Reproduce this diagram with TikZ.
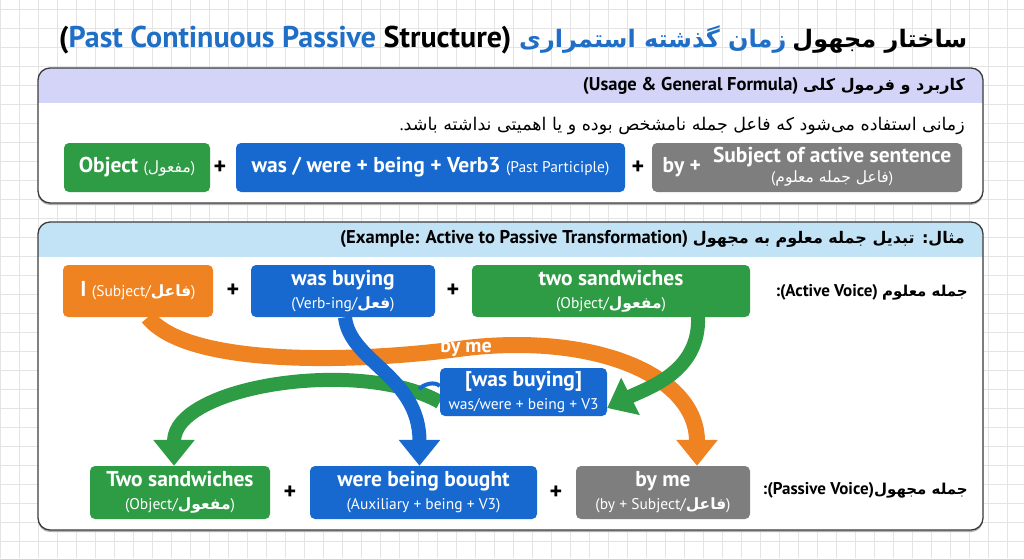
\documentclass[tikz,border=0pt]{standalone}
\usepackage{fontspec}
\setmainfont{PT Sans}
\newfontfamily\fa[Script=Arabic]{DejaVu Sans}
\TeXXeTstate=1
\usetikzlibrary{arrows.meta,positioning}
\pgfdeclarelayer{back}
\pgfdeclarelayer{flows}
\pgfsetlayers{back,flows,main}
\definecolor{gridgray}{HTML}{E4E4E4}
\definecolor{boxgreen}{HTML}{2E9C44}
\definecolor{boxblue}{HTML}{1769CF}
\definecolor{boxorange}{HTML}{F08321}
\definecolor{boxgray}{HTML}{7E7E7E}
\definecolor{titleblue}{HTML}{1F6FC6}
\definecolor{hdrlav}{HTML}{D3D4F8}
\definecolor{hdrsky}{HTML}{C2E2F6}
\definecolor{framegray}{HTML}{3C3C3C}
\newcommand\fatxt[1]{{\fa\beginR #1\endR}}
\newcommand\hfa[1]{{\fontsize{16}{18}\selectfont\fatxt{#1}}}
\newcommand\lfa[1]{{\fontsize{15}{17}\selectfont\fatxt{#1}}}
\newcommand\subtxt{\mdseries\fontsize{15.5}{17}\selectfont}

\begin{document}
\begin{tikzpicture}[x=1pt,y=-1pt,
    gridln/.style={gridgray, line width=0.6pt},
    panel/.style={draw=framegray, line width=1.3pt, rounded corners=12pt},
    wbox/.style={rounded corners=5pt, text=white, align=center, inner sep=0pt,
                 font=\bfseries\fontsize{21.5}{23}\selectfont},
    plus/.style={font=\bfseries\fontsize{24}{24}\selectfont, inner sep=0pt},
    hdr/.style={anchor=east, inner sep=0pt, font=\bfseries\fontsize{18.5}{20}\selectfont},
    voice/.style={anchor=east, inner sep=0pt, font=\bfseries\fontsize{17}{19}\selectfont},
    flow/.style={line width=14pt, -{Triangle[length=26pt 0, width=40pt 0]}}
]
\useasboundingbox (0,0) rectangle (1024,558);

% grid paper and the two panels
\begin{pgfonlayer}{back}
\foreach \gx in {0,19,...,1024} \draw[gridln] (\gx,0) -- (\gx,558);
\foreach \gy in {9,28,...,558} \draw[gridln] (0,\gy) -- (1024,\gy);

\fill[black!30, rounded corners=12pt] (38,70) rectangle (983,205);
\fill[white, rounded corners=12pt] (38,68) rectangle (983,203);
\begin{scope}
\clip[rounded corners=12pt] (38,68) rectangle (983,203);
\fill[hdrlav] (38,68) rectangle (983,103);
\end{scope}
\draw[panel] (38,68) rectangle (983,203);

\fill[black!30, rounded corners=12pt] (38,224) rectangle (983,532);
\fill[white, rounded corners=12pt] (38,222) rectangle (983,530);
\begin{scope}
\clip[rounded corners=12pt] (38,222) rectangle (983,530);
\fill[hdrsky] (38,222) rectangle (983,257);
\end{scope}
\draw[panel] (38,222) rectangle (983,530);
\end{pgfonlayer}

% title
\node[font=\bfseries\fontsize{30}{34}\selectfont] (title) at (513,40)
  {(\textcolor{titleblue}{Past Continuous Passive} Structure) {\fontsize{24}{30}\selectfont{\color{titleblue}\fatxt{زمان گذشته استمراری}} \fatxt{ساختار مجهول}}};

% usage and formula
\node[hdr] (usage) at (965,86) {(Usage \& General Formula) \hfa{کاربرد و فرمول کلی}};
\node[hdr, font=\fontsize{17.5}{20}\selectfont] (when) at (965,126)
  {.\fatxt{زمانی استفاده می‌شود که فاعل جمله نامشخص بوده و یا اهمیتی نداشته باشد}};

\node[wbox, fill=boxgreen, minimum width=146pt, minimum height=49pt] (objF) at (137,167.5)
  {Object {\subtxt(\fatxt{مفعول})}};
\node[plus] (p1) at (220,167.5) {+};
\node[wbox, fill=boxblue, minimum width=389pt, minimum height=49pt] (auxF) at (430.5,167.5)
  {was / were + being + Verb3 {\subtxt(Past Participle)}};
\node[plus] (p2) at (638,167.5) {+};
\node[wbox, fill=boxgray, minimum width=310pt, minimum height=49pt] (agentF) at (807,167.5)
  {by +\hspace{12pt}\begin{tabular}{@{}c@{}}Subject of active sentence\\[-3pt]{\subtxt(\fatxt{فاعل جمله معلوم})}\end{tabular}};

% example header
\node[hdr] (exhdr) at (965,239) {(Example: Active to Passive Transformation) \hfa{مثال: تبدیل جمله معلوم به مجهول}};

% active sentence
\node[wbox, fill=boxorange, minimum width=150pt, minimum height=52pt] (subjA) at (138,291)
  {I {\subtxt(Subject/\fatxt{\bfseries فاعل})}};
\node[plus] (p3) at (233,291) {+};
\node[wbox, fill=boxblue, minimum width=184pt, minimum height=52pt] (verbA) at (343,291)
  {was buying\\ {\subtxt(Verb-ing/\fatxt{\bfseries فعل})}};
\node[plus] (p4) at (453,291) {+};
\node[wbox, fill=boxgreen, minimum width=278pt, minimum height=52pt] (objA) at (611,291)
  {two sandwiches\\ {\subtxt(Object/\fatxt{\bfseries مفعول})}};
\node[voice] (actlbl) at (968,292) {:(Active Voice) \lfa{جمله معلوم}};

% helper box
\node[wbox, fill=boxblue, minimum width=167pt, minimum height=48pt] (midB) at (523.5,392)
  {[was buying]\\ {\subtxt was/were + being + V3}};

% passive sentence
\node[wbox, fill=boxgreen, minimum width=180pt, minimum height=53pt] (objP) at (180,492.5)
  {Two sandwiches\\ {\subtxt(Object/\fatxt{\bfseries مفعول})}};
\node[plus] (p5) at (290,492.5) {+};
\node[wbox, fill=boxblue, minimum width=227pt, minimum height=53pt] (verbP) at (423.5,492.5)
  {were being bought\\ {\subtxt(Auxiliary + being + V3)}};
\node[plus] (p6) at (556,492.5) {+};
\node[wbox, fill=boxgray, minimum width=174pt, minimum height=53pt] (agentP) at (663,492.5)
  {by me\\ {\subtxt(by + Subject/\fatxt{\bfseries فاعل})}};
\node[voice] (paslbl) at (968,490) {:(Passive Voice)\lfa{جمله مجهول}};

% the moves
\coordinate (hook) at (419,389);
\begin{pgfonlayer}{flows}
\draw[flow, boxorange, line width=16pt] ([xshift=10]subjA.south)
  .. controls +(40,50) and +(-110,15) .. (466,348) coordinate (bend)
  .. controls +(130,-15) and +(0,-90) .. ([xshift=34]agentP.north);
\draw[flow, boxgreen] ([yshift=-10]midB.west) .. controls +(-80,-45) and +(0,-80) .. ([xshift=-6]objP.north);
\draw[flow, boxgreen] ([xshift=87]objA.south) .. controls +(2,55) and +(40,-20) .. ([yshift=-16]midB.east);
\draw[flow, boxblue] ([xshift=2]verbA.south) .. controls +(5,45) and +(0,-90) .. ([xshift=-4]verbP.north);
\draw[boxblue, line width=4pt] ([yshift=6]midB.west) .. controls +(-5,-5) and +(5,-5) .. (hook);
\end{pgfonlayer}
\node[font=\bfseries\fontsize{20}{22}\selectfont, text=white, inner sep=0pt] (bymeLbl) at (bend) {by me};
\end{tikzpicture}
\end{document}
